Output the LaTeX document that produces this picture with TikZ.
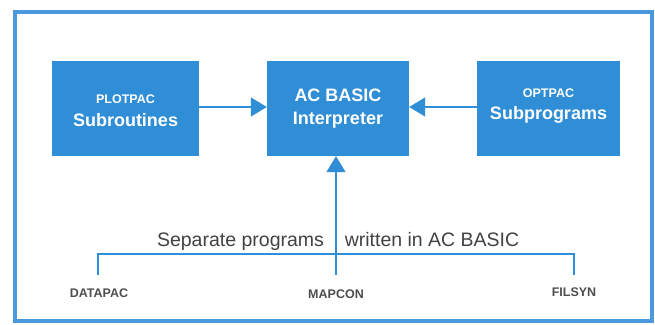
\documentclass[tikz,border=0pt]{standalone}
\usepackage{fontspec}
\setmainfont{Liberation Sans}
\usetikzlibrary{arrows.meta}
\definecolor{boxblue}{RGB}{48,142,214}
\definecolor{frameblue}{RGB}{76,152,220}
\definecolor{txtgray}{RGB}{78,78,78}
\tikzset{
  bluebox/.style={fill=boxblue, draw=none, inner sep=0pt, text=white, align=center,
    font=\bfseries\fontsize{18}{23}\selectfont},
  flow/.style={draw=boxblue, line width=1.4pt, -{Triangle[length=16pt,width=19pt]}},
  bracket/.style={draw=boxblue, line width=1.1pt},
  prog/.style={text=txtgray, font=\bfseries\fontsize{12.5}{15}\selectfont, inner sep=0pt, anchor=base},
  caption/.style={text=txtgray!85!black, font=\fontsize{19.5}{23}\selectfont, inner sep=0pt, anchor=base}
}
\begin{document}
\begin{tikzpicture}[x=1pt,y=-1pt]
\useasboundingbox (0,0) rectangle (655,324);
\fill[white] (0,0) rectangle (655,324);
\draw[frameblue, line width=4pt] (15,12) rectangle (652,321);

\node[bluebox, minimum width=147pt, minimum height=95pt] (plot) at (125.5,108.5)
  {\rule{0pt}{14pt}{\fontsize{12.5}{15}\selectfont PLOTPAC}\\[0pt]Subroutines};
\node[bluebox, minimum width=142pt, minimum height=95pt] (ac) at (338,108.5)
  {AC BASIC\\Interpreter};
\node[bluebox, minimum width=143pt, minimum height=95pt] (opt) at (548.5,108)
  {{\fontsize{12.5}{15}\selectfont OPTPAC}\\[-1pt]Subprograms\\[-16pt]\mbox{}};

\draw[flow] (plot.east |- 0,107) -- (ac.west |- 0,107);
\draw[flow] (opt.west |- 0,107) -- (ac.east |- 0,107);

\node[prog] (datapac) at (99,297) {DATAPAC};
\node[prog] (mapcon) at (336,298) {MAPCON};
\node[prog] (filsyn) at (574,296) {FILSYN};

\coordinate (dtop) at (98,275);
\coordinate (ftop) at (574,275);
\coordinate (mtop) at (336,275);
\coordinate (dcorner) at (98,254);
\coordinate (fcorner) at (574,254);

\draw[bracket] (dtop) -- (dcorner) -- (fcorner) -- (ftop);
\draw[flow] (mtop) -- (mtop |- ac.south);

\node[caption] (cap1) at (240.5,246) {Separate programs};
\node[caption] (cap2) at (432,246) {written in AC BASIC};
\end{tikzpicture}
\end{document}
